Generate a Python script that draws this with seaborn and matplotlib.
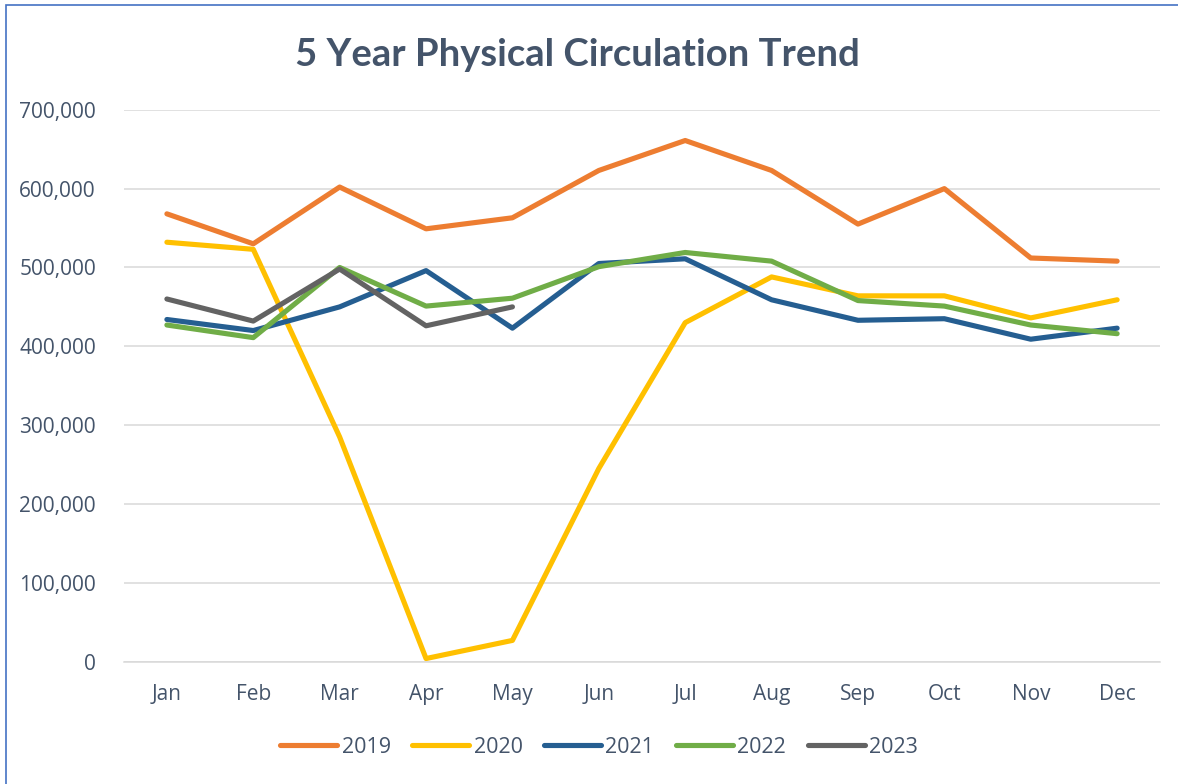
import pandas as pd
import seaborn as sns
import matplotlib.pyplot as plt
from matplotlib.patches import Rectangle
from matplotlib.ticker import FuncFormatter, FixedLocator

# =====================================================
# Datos
# =====================================================
months = ["Jan", "Feb", "Mar", "Apr", "May", "Jun",
          "Jul", "Aug", "Sep", "Oct", "Nov", "Dec"]

circ_2019 = [568000, 530000, 602000, 549000, 563000, 623000,
             661000, 623000, 555000, 600000, 512000, 508000]
circ_2020 = [532000, 523000, 285000, 4000, 27000, 245000,
             430000, 488000, 464000, 464000, 436000, 459000]
circ_2021 = [434000, 420000, 450000, 496000, 423000, 505000,
             511000, 459000, 433000, 435000, 409000, 423000]
circ_2022 = [427000, 411000, 500000, 451000, 461000, 501000,
             519000, 508000, 458000, 451000, 427000, 416000]
circ_2023 = [460000, 432000, 498000, 426000, 450000]

years = ["2019", "2020", "2021", "2022", "2023"]
series = [circ_2019, circ_2020, circ_2021, circ_2022, circ_2023]

year_colors = {
    "2019": "#ED7D31",
    "2020": "#FFC000",
    "2021": "#255E91",
    "2022": "#70AD47",
    "2023": "#636363",
}

rows = []
for yr, vals in zip(years, series):
    for m, v in zip(months, vals):
        rows.append({"Month": m, "Circulation": v, "Year": yr})
df = pd.DataFrame(rows)

# =====================================================
# Figura
# =====================================================
sns.set_style("white")
plt.rcParams["font.family"] = ["Open Sans", "DejaVu Sans"]
text_color = "#44546A"

fig = plt.figure(figsize=(11.78, 7.84), dpi=100)
ax = fig.add_axes([0.105, 0.156, 0.88, 0.704])

sns.lineplot(data=df, x="Month", y="Circulation", hue="Year",
             palette=year_colors, linewidth=3.7, sort=False, ax=ax)
for ln in ax.lines:
    ln.set_solid_capstyle("round")
    ln.set_solid_joinstyle("round")

ax.set_xlim(-0.5, 11.5)
ax.set_ylim(0, 700000)
ax.set_yticks(range(0, 700001, 100000))
ax.yaxis.set_major_formatter(FuncFormatter(lambda v, p: f"{int(v):,}"))
ax.grid(axis="y", color="#D9D9D9", linewidth=1.1)
ax.set_axisbelow(True)

for side in ["top", "right", "left"]:
    ax.spines[side].set_visible(False)
ax.spines["bottom"].set_color("#D9D9D9")
ax.spines["bottom"].set_linewidth(1.1)

ax.xaxis.set_minor_locator(FixedLocator([i - 0.5 for i in range(13)]))
ax.tick_params(axis="x", which="minor", length=6, width=1.1, color="#D9D9D9")
ax.tick_params(axis="x", which="major", length=0, pad=16,
               labelsize=15, labelcolor=text_color)
ax.tick_params(axis="y", length=0, pad=20, labelsize=15, labelcolor=text_color)
ax.set_xlabel("")
ax.set_ylabel("")

fig.text(0.49, 0.93, "5 Year Physical Circulation Trend", ha="center",
         va="center", fontsize=27.5, fontweight="bold", color=text_color,
         family=["Lato", "DejaVu Sans"])

leg = ax.legend(loc="center", bbox_to_anchor=(0.4585, -0.155), ncol=5,
                frameon=False, fontsize=15.5, handlelength=2.65, handletextpad=0.2,
                columnspacing=1.0, labelcolor=text_color)
for h in leg.get_lines():
    h.set_solid_capstyle("round")

# borde del área del gráfico
fig.patches.append(Rectangle((0.005, -0.1), 1.2, 1.094, transform=fig.transFigure,
                             fill=False, edgecolor="#4472C4", linewidth=1.2))

fig.savefig("out.png", dpi=100)
